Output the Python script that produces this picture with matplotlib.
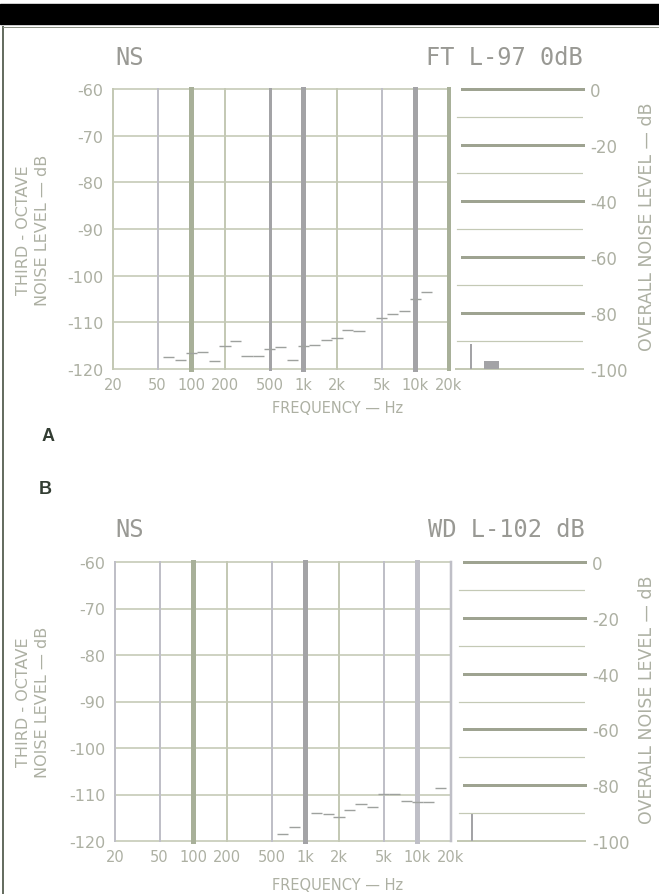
import numpy as np
import matplotlib
matplotlib.use("Agg")
import matplotlib.pyplot as plt
from matplotlib.patches import Rectangle
from matplotlib.lines import Line2D

W, H = 659, 895

# third-octave band centres (Hz)
bands = [20, 25, 31.5, 40, 50, 63, 80, 100, 125, 160, 200, 250, 315, 400, 500,
         630, 800, 1000, 1250, 1600, 2000, 2500, 3150, 4000, 5000, 6300, 8000,
         10000, 12500, 16000, 20000]
nan = np.nan
# chart A: FT L-97 0dB
levels_a = [nan, nan, nan, nan, nan, -117.5, -118, -116.5, -116.3, -118.2, -115, -114,
            -117.3, -117.3, -115.7, -115.3, -118, -115, -114.8, -113.7, -113.4,
            -111.6, -111.9, nan, -109, -108.2, -107.5, -105, -103.5, nan, nan]
# chart B: WD L-102 dB
levels_b = [nan, nan, nan, nan, nan, nan, nan, nan, nan, nan, nan, nan, nan, nan, nan,
            -118.4, -117, nan, -114, -114.3, -114.9, -113.3, -112.1, -112.7, -109.8,
            -109.8, -111.4, -111.7, -111.7, -108.7, nan]

# overall level meter (right panel): bar position 0..1, level dB
overall_pos_a = [0.164, 0.317]
overall_lvl_a = [-91, -97]
overall_wid_a = [0.02, 0.11]
overall_pos_b = [0.157]
overall_lvl_b = [-90.5]
overall_wid_b = [0.02]

freq_ticks = [20, 50, 100, 200, 500, 1000, 2000, 5000, 10000, 20000]
freq_labels = ['20', '50', '100', '200', '500', '1k', '2k', '5k', '10k', '20k']
db_ticks = [-60, -70, -80, -90, -100, -110, -120]
overall_ticks = [0, -20, -40, -60, -80, -100]

TXT = (0.68, 0.69, 0.64)
GRN = (0.77, 0.79, 0.71)
GRN_D = (0.66, 0.69, 0.60)
GRY = (0.75, 0.75, 0.78)
GRY_D = (0.64, 0.64, 0.65)
BAR = (0.62, 0.64, 0.57)
DASH = (0.62, 0.63, 0.62)

# vertical grid styles per chart: freq -> (color, width px)
vstyle_a = {20: (GRN, 2), 50: (GRY, 2), 100: (GRN_D, 5), 200: (GRN, 2), 500: (GRY_D, 3),
            1000: (GRY_D, 5), 2000: (GRN, 2), 5000: (GRY, 2), 10000: (GRY_D, 5),
            20000: (GRN_D, 4)}
vstyle_b = {20: (GRY, 2), 50: (GRY, 2), 100: (GRN_D, 5), 200: (GRN, 2), 500: (GRY, 2),
            1000: (GRY_D, 5), 2000: (GRN, 2), 5000: (GRY, 2), 10000: (GRY, 5),
            20000: (GRY, 2.5)}

PT = 72 / 100.0  # px -> pt

fig = plt.figure(figsize=(W / 100, H / 100), dpi=100)
fig.patch.set_facecolor('white')


def px_axes(x0, y0, x1, y1):
    return fig.add_axes([x0 / W, 1 - y1 / H, (x1 - x0) / W, (y1 - y0) / H])


def draw_chart(x0, y0, x1, xr, y1, levels, vstyle, opos, olvl, owid, title, y_title, y_flab):
    ax = px_axes(x0, y0, x1, y1)
    ax.set_xscale('log')
    ax.set_xlim(20, 20000)
    ax.set_ylim(-120, -60)
    for s in ax.spines.values():
        s.set_visible(False)
    ax.set_facecolor('none')
    for d in db_ticks:
        ax.axhline(d, color=GRN, lw=1.6 * PT, zorder=1, clip_on=False)
    for f in freq_ticks:
        c, w = vstyle[f]
        ax.axvline(f, color=c, lw=w * PT, zorder=2, clip_on=False)
    b = np.array(bands)
    ax.hlines(levels, b * 2 ** (-1 / 6), b * 2 ** (1 / 6), color=DASH, lw=1.4 * PT, zorder=3)
    ax.set_xticks(freq_ticks)
    ax.set_xticklabels(freq_labels)
    ax.minorticks_off()
    ax.set_yticks(db_ticks)
    ax.set_yticklabels([str(d) for d in db_ticks])
    ax.tick_params(length=0, colors=TXT)
    ax.tick_params(axis='y', pad=7, labelsize=11.5)
    ax.tick_params(axis='x', pad=6, labelsize=10.5)

    # overall level panel
    ar = px_axes(x1, y0, xr, y1)
    ar.set_xlim(0, 1)
    ar.set_ylim(-100, 0)
    for s in ar.spines.values():
        s.set_visible(False)
    ar.set_facecolor('none')
    for d in range(0, -100, -10):
        if d % 20 == 0:
            ar.axhline(d, xmin=0.1, xmax=1.0, color=BAR, lw=3 * PT, zorder=1, clip_on=False)
        else:
            ar.axhline(d, xmin=0.06, xmax=1.0, color=GRN, lw=1.2 * PT, zorder=1)
    ar.axhline(-100, xmin=0.05, xmax=1.0, color=GRN, lw=2 * PT, zorder=1, clip_on=False)
    ar.bar(opos, np.array(olvl) + 100, bottom=-100, width=owid, color=GRY_D, zorder=3)
    ar.set_xticks([])
    ar.yaxis.tick_right()
    ar.set_yticks(overall_ticks)
    ar.set_yticklabels([str(d) for d in overall_ticks])
    ar.tick_params(length=0, colors=TXT, labelsize=12, pad=5)

    yc = (y0 + y1) / 2
    fig.text(23 / W, 1 - yc / H, 'THIRD - OCTAVE', rotation=90, ha='center', va='center',
             color=TXT, fontsize=11.5)
    fig.text(43 / W, 1 - yc / H, 'NOISE LEVEL — dB', rotation=90, ha='center', va='center',
             color=TXT, fontsize=11.5)
    fig.text(647 / W, 1 - (yc - 3) / H, 'OVERALL NOISE LEVEL — dB', rotation=90, ha='center',
             va='center', color=TXT, fontsize=12.5)
    fig.text(338 / W, 1 - y_flab / H, 'FREQUENCY — Hz', ha='center', va='center',
             color=TXT, fontsize=10.5)
    fig.text(130 / W, 1 - y_title / H, 'NS', ha='center', va='center', color=(0.6, 0.6, 0.58),
             fontsize=17, family='DejaVu Sans Mono')
    fig.text(xr / W, 1 - y_title / H, title, ha='right', va='center', color=(0.6, 0.6, 0.58),
             fontsize=17, family='DejaVu Sans Mono')


draw_chart(113, 90, 449, 583, 370, levels_a, vstyle_a, overall_pos_a, overall_lvl_a,
           overall_wid_a, 'FT L-97 0dB', 58, 409)
draw_chart(115, 563, 451, 585, 842, levels_b, vstyle_b, overall_pos_b, overall_lvl_b,
           overall_wid_b, 'WD L-102 dB', 530, 886)

fig.text(48 / W, 1 - 437 / H, 'A', ha='center', va='center', color=(0.2, 0.24, 0.2),
         fontsize=13, fontweight='bold', family='Liberation Sans')
fig.text(45 / W, 1 - 490 / H, 'B', ha='center', va='center', color=(0.2, 0.24, 0.2),
         fontsize=13, fontweight='bold', family='Liberation Sans')

# page furniture: black band and frame lines
fig.add_artist(Rectangle((0, 1 - 25 / H), 1, 20 / H, transform=fig.transFigure,
                         color='black', zorder=5))
fig.add_artist(Line2D([3 / W, 3 / W], [1 - 28 / H, 0], transform=fig.transFigure,
                      color=(0.4, 0.43, 0.38), lw=2 * PT))
fig.add_artist(Line2D([3 / W, 1], [1 - 28 / H, 1 - 28 / H], transform=fig.transFigure,
                      color=(0.55, 0.57, 0.52), lw=1 * PT))

fig.savefig('out.png', dpi=100)
